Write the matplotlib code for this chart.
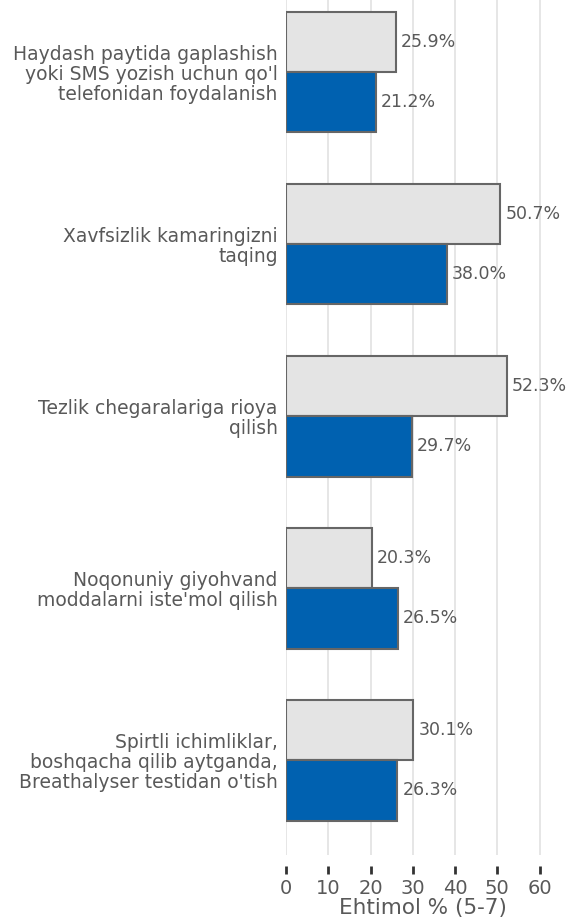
import matplotlib
matplotlib.use("Agg")
import matplotlib.pyplot as plt
import numpy as np

# data
categories = [
    "Haydash paytida gaplashish\nyoki SMS yozish uchun qo'l\ntelefonidan foydalanish",
    "Xavfsizlik kamaringizni\ntaqing",
    "Tezlik chegaralariga rioya\nqilish",
    "Noqonuniy giyohvand\nmoddalarni iste'mol qilish",
    "Spirtli ichimliklar,\nboshqacha qilib aytganda,\nBreathalyser testidan o'tish",
]
gray_vals = [25.9, 50.7, 52.3, 20.3, 30.1]
blue_vals = [21.2, 38.0, 29.7, 26.5, 26.3]
xticks = [0, 10, 20, 30, 40, 50, 60]

txt = '#595959'
plt.rcParams['font.family'] = ['DejaVu Sans']

fig = plt.figure(figsize=(5.71, 9.23), dpi=100)
ax = fig.add_axes([0.501, 0.0737, 0.481, 0.9263])

y = np.arange(len(categories))
h = 0.35
ax.barh(y - h / 2, gray_vals, height=h, color='#e4e4e4', edgecolor='#666666', linewidth=1.5, zorder=3)
ax.barh(y + h / 2, blue_vals, height=h, color='#0061b0', edgecolor='#666666', linewidth=1.5, zorder=3)

for yi, v in zip(y, gray_vals):
    ax.text(v + 1.2, yi - h / 2, f"{v:.1f}%", va='center', ha='left', fontsize=12.5, color=txt)
for yi, v in zip(y, blue_vals):
    ax.text(v + 1.2, yi + h / 2, f"{v:.1f}%", va='center', ha='left', fontsize=12.5, color=txt)

ax.set_xlim(0, 65)
ax.set_ylim(4.55, -0.42)
ax.set_xticks(xticks)
ax.set_yticks(y)
ax.set_yticklabels(categories, fontsize=13.5, color=txt, linespacing=1.05)
ax.tick_params(axis='y', length=0, pad=6)
ax.tick_params(axis='x', length=6, width=2, color='#333333', labelcolor=txt, labelsize=14, pad=3)
ax.grid(axis='x', color='#e4e4e4', linewidth=1.3, zorder=0)

for s in ['top', 'right', 'left']:
    ax.spines[s].set_visible(False)
ax.spines['bottom'].set_position(('outward', 8))
ax.spines['bottom'].set_color('none')

ax.set_xlabel("Ehtimol % (5-7)", fontsize=15.5, color=txt, labelpad=0)

fig.savefig('out.png', dpi=100)
